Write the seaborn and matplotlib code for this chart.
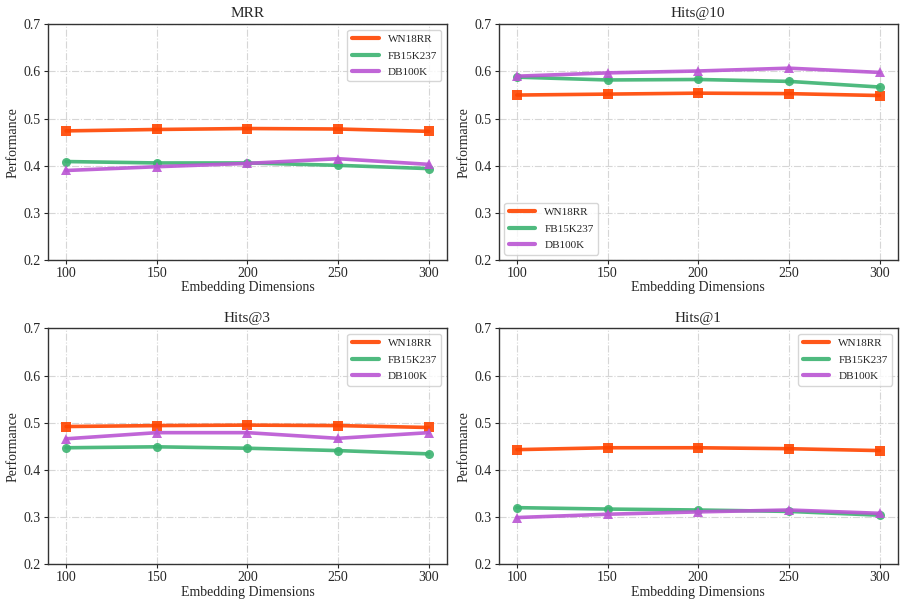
import pandas as pd
import seaborn as sns
import matplotlib
matplotlib.use("Agg")
import matplotlib.pyplot as plt
from matplotlib.lines import Line2D

dims = [100, 150, 200, 250, 300]
datasets = ["WN18RR", "FB15K237", "DB100K"]

mrr_wn = [0.474, 0.477, 0.479, 0.478, 0.473]
mrr_fb = [0.409, 0.406, 0.406, 0.401, 0.394]
mrr_db = [0.390, 0.398, 0.405, 0.415, 0.403]

h10_wn = [0.550, 0.552, 0.554, 0.553, 0.549]
h10_fb = [0.588, 0.582, 0.583, 0.579, 0.567]
h10_db = [0.590, 0.597, 0.601, 0.607, 0.598]

h3_wn = [0.492, 0.494, 0.495, 0.494, 0.490]
h3_fb = [0.447, 0.449, 0.446, 0.441, 0.434]
h3_db = [0.466, 0.479, 0.479, 0.467, 0.479]

h1_wn = [0.443, 0.447, 0.447, 0.445, 0.441]
h1_fb = [0.320, 0.317, 0.315, 0.312, 0.304]
h1_db = [0.299, 0.306, 0.311, 0.315, 0.308]

metrics = {
    "MRR": [mrr_wn, mrr_fb, mrr_db],
    "Hits@10": [h10_wn, h10_fb, h10_db],
    "Hits@3": [h3_wn, h3_fb, h3_db],
    "Hits@1": [h1_wn, h1_fb, h1_db],
}
legend_loc = {"MRR": "upper right", "Hits@10": "lower left",
              "Hits@3": "upper right", "Hits@1": "upper right"}

colors = ["#FF4500", "#3CB371", "#BA55D3"]
markers = ["s", "o", "^"]

sns.set_style("white")
plt.rcParams["font.family"] = ["Liberation Serif", "DejaVu Serif"]

fig, axes = plt.subplots(2, 2, figsize=(9.04, 6.08), dpi=100)
fig.subplots_adjust(left=0.053, right=0.993, top=0.960, bottom=0.072,
                    wspace=0.13, hspace=0.29)

for ax, (name, series) in zip(axes.flat, metrics.items()):
    for label, vals, c, m in zip(datasets, series, colors, markers):
        df = pd.DataFrame({"dim": dims, "perf": vals})
        sns.lineplot(data=df, x="dim", y="perf", ax=ax, color=c, marker=m,
                     markersize=6.5, markeredgewidth=0, linewidth=2.6,
                     alpha=0.9, legend=False)
    ax.set_ylim(0.2, 0.7)
    ax.set_xticks(dims)
    ax.set_yticks([0.2, 0.3, 0.4, 0.5, 0.6, 0.7])
    ax.set_title(name, fontsize=11, pad=5)
    ax.set_xlabel("Embedding Dimensions", fontsize=10, labelpad=1)
    ax.set_ylabel("Performance", fontsize=10, labelpad=3)
    ax.tick_params(axis="both", labelsize=10, length=3, width=0.8,
                   direction="out", bottom=True, left=True, pad=2)
    ax.grid(True, linestyle="-.", color="#cccccc", linewidth=0.8, alpha=0.8)
    for sp in ax.spines.values():
        sp.set_color("#333333")
        sp.set_linewidth(1.0)
    handles = [Line2D([0], [0], color=c, linewidth=3, alpha=0.9) for c in colors]
    ax.legend(handles, datasets, loc=legend_loc[name], fontsize=8,
              frameon=True, fancybox=True, framealpha=0.8, edgecolor="#cccccc",
              handlelength=2.4, labelspacing=0.6)

fig.savefig("out.png", dpi=100)
